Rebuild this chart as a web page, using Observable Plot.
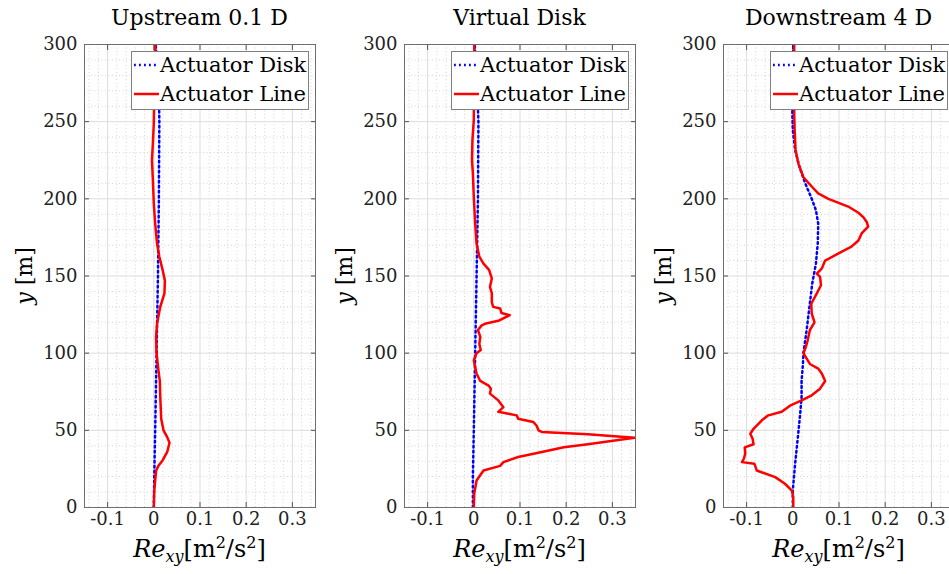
<!DOCTYPE html>
<html>
<head>
<meta charset="utf-8">
<script src="https://cdn.jsdelivr.net/npm/d3@7"></script>
<script src="https://cdn.jsdelivr.net/npm/@observablehq/plot@0.6"></script>
<style>
  html, body { margin: 0; padding: 0; background: #fff; overflow: hidden; }
  #wrap { position: relative; width: 949px; height: 574px; overflow: hidden; font-family: "DejaVu Serif", "Liberation Serif", serif; color: #000; }
  .panel { position: absolute; top: 0; width: 320px; height: 574px; }
  .panel svg { position: absolute; left: 0; top: 0; }
  .title { position: absolute; top: 7px; font-size: 22px; white-space: nowrap; transform: translateX(-50%); line-height: 1; }
  .xlab { position: absolute; top: 535px; font-size: 24px; white-space: nowrap; transform: translateX(-50%); line-height: 1; }
  .xlab sub { font-size: 16px; vertical-align: -5px; }
  .xlab sup { font-size: 16px; vertical-align: 9px; }
  .ylab { position: absolute; left: 25px; top: 276px; font-size: 22px; white-space: nowrap; transform: translate(-50%, -50%) rotate(-90deg); line-height: 1; }
  .legend { position: absolute; background: #fff; border: 1px solid #808080; font-size: 21px; line-height: 1; }
  .legend svg { position: absolute; left: 0; top: 0; }
  .legend .txt { position: absolute; left: 28px; white-space: nowrap; }
</style>
</head>
<body>
<div id="wrap"></div>
<script>
// ---------- data ----------
const panelTitles = ["Upstream 0.1 D", "Virtual Disk", "Downstream 4 D"];
const seriesNames = ["Actuator Disk", "Actuator Line"];
const xTicks = [-0.1, 0, 0.1, 0.2, 0.3];
const yTicks = [0, 50, 100, 150, 200, 250, 300];
const xDomain = [-0.15, 0.35];
const yDomain = [0, 300];

// Upstream 0.1 D
const upDiskY = [0, 20, 50, 100, 150, 200, 250, 270, 285, 300];
const upDiskX = [0, 0.001, 0.003, 0.006, 0.009, 0.011, 0.012, 0.011, 0.008, 0.004];
const upLineY = [0, 11, 24, 27, 30.5, 36, 42, 45.6, 50, 57.5, 71.6, 82, 89, 100, 110.5, 119, 130, 138.7, 147, 154, 162.5, 171, 184, 197, 212, 225, 236, 249, 266, 300];
const upLineX = [0, 0.001, 0.005, 0.01, 0.019, 0.029, 0.034, 0.029, 0.021, 0.016, 0.014, 0.013, 0.01, 0.006, 0.005, 0.007, 0.014, 0.023, 0.024, 0.019, 0.012, 0.007, 0.003, 0, -0.002, -0.004, -0.002, 0, 0.001, 0.003];

// Virtual Disk
const vdDiskY = [0, 20, 50, 100, 150, 200, 250, 275, 300];
const vdDiskX = [-0.002, -0.002, 0, 0.003, 0.006, 0.009, 0.01, 0.007, 0.002];
const vdLineY = [0, 9, 17.5, 24, 27, 29.4, 32.7, 35, 39, 41, 45.2, 47.4, 49, 50, 53, 55.4, 57.5, 59.7, 60.8, 62, 65, 69.4, 73.8, 77, 79, 82, 86.7, 91, 95.4, 100, 102, 106, 110.5, 115, 118, 119, 121, 124.6, 126, 129, 130, 133, 138.7, 143, 148.4, 154, 158, 162.5, 171, 184, 201, 216.5, 225, 238, 251, 300];
const vdLineX = [0, 0.001, 0.006, 0.021, 0.057, 0.064, 0.096, 0.132, 0.195, 0.247, 0.348, 0.247, 0.147, 0.14, 0.136, 0.129, 0.096, 0.093, 0.075, 0.053, 0.064, 0.053, 0.035, 0.037, 0.032, 0.014, 0.006, 0.003, 0, 0.006, 0.015, 0.012, 0.014, 0.009, 0.017, 0.024, 0.053, 0.078, 0.06, 0.057, 0.042, 0.039, 0.039, 0.035, 0.039, 0.033, 0.021, 0.012, 0.006, 0.003, 0, -0.002, -0.004, -0.003, 0, 0.001];

// Downstream 4 D
const dsDiskY = [0, 11, 28.3, 45.6, 60.8, 71.6, 82, 93, 100, 115, 130, 145, 158, 171, 184, 192.7, 200, 210, 221, 231.7, 244.6, 255.5, 300];
const dsDiskX = [0, 0, 0.005, 0.011, 0.016, 0.019, 0.019, 0.022, 0.023, 0.03, 0.036, 0.042, 0.05, 0.054, 0.055, 0.05, 0.041, 0.027, 0.014, 0.005, 0, -0.001, 0.001];
const dsLineY = [0, 6.7, 11, 15.4, 19.7, 24, 28.3, 29.4, 31.6, 34.8, 39, 41, 44.6, 47.8, 51, 56.5, 59.7, 62, 66, 69.4, 72.7, 77, 82, 86.7, 90, 93, 96.5, 100, 103, 108, 115, 120, 125.7, 132, 138.7, 144, 149.5, 151.6, 155, 160, 164.6, 169, 173, 177.6, 182, 185, 188, 191, 195, 200, 203.5, 208, 214, 223, 231.7, 244.6, 255.5, 300];
const dsLineX = [0.001, 0.001, -0.002, -0.017, -0.038, -0.078, -0.083, -0.11, -0.106, -0.103, -0.104, -0.085, -0.087, -0.092, -0.085, -0.067, -0.053, -0.024, -0.006, 0.019, 0.041, 0.059, 0.07, 0.063, 0.055, 0.037, 0.03, 0.023, 0.027, 0.032, 0.037, 0.047, 0.041, 0.04, 0.052, 0.061, 0.059, 0.052, 0.063, 0.07, 0.099, 0.127, 0.142, 0.149, 0.163, 0.16, 0.153, 0.142, 0.12, 0.077, 0.055, 0.041, 0.023, 0.012, 0.006, 0.004, 0.003, 0.003];

const panels = [
  {title: panelTitles[0], disk: [upDiskX, upDiskY], line: [upLineX, upLineY]},
  {title: panelTitles[1], disk: [vdDiskX, vdDiskY], line: [vdLineX, vdLineY]},
  {title: panelTitles[2], disk: [dsDiskX, dsDiskY], line: [dsLineX, dsLineY]}
];

// ---------- layout ----------
const panelLeft = [0, 320, 639];
const PW = 320, PH = 574;
const mL = 84, mR = 5, mT = 44, mB = 67;
const minorX = d3.range(-0.14, 0.3401, 0.02).map(v => +v.toFixed(2)).filter(v => !xTicks.some(t => Math.abs(t - v) < 1e-9));
const minorY = d3.range(10, 300, 10).filter(v => v % 50 !== 0);
const fmt = d => d === 0 ? "0" : String(d);
const toRows = ([xs, ys]) => xs.map((x, i) => ({x, y: ys[i]}));
const dotted = "1.8,3.2";

const wrap = document.getElementById("wrap");

panels.forEach((p, i) => {
  const div = document.createElement("div");
  div.className = "panel";
  div.style.left = panelLeft[i] + "px";
  wrap.appendChild(div);

  const chart = Plot.plot({
    width: PW, height: PH,
    marginLeft: mL, marginRight: mR, marginTop: mT, marginBottom: mB,
    style: {fontFamily: "DejaVu Serif, serif", fontSize: "18px", color: "#000", background: "transparent"},
    x: {domain: xDomain, label: null},
    y: {domain: yDomain, label: null},
    marks: [
      Plot.gridX(minorX, {stroke: "#d4d4d4", strokeOpacity: 1, strokeDasharray: "1,2.5"}),
      Plot.gridY(minorY, {stroke: "#d4d4d4", strokeOpacity: 1, strokeDasharray: "1,2.5"}),
      Plot.gridX(xTicks, {stroke: "#dddddd", strokeOpacity: 1}),
      Plot.gridY(yTicks, {stroke: "#dddddd", strokeOpacity: 1}),
      Plot.axisX(xTicks, {anchor: "bottom", tickSize: 0, tickPadding: 5, tickFormat: fmt, fontSize: 18, fill: "#222"}),
      Plot.axisY(yTicks, {anchor: "left", tickSize: 0, tickPadding: 7, tickFormat: fmt, fontSize: 18, fill: "#222"}),
      Plot.axisX(xTicks, {anchor: "bottom", tickSize: -5, text: null, stroke: "#555"}),
      Plot.axisX(xTicks, {anchor: "top", tickSize: -5, text: null, stroke: "#555"}),
      Plot.axisY(yTicks, {anchor: "left", tickSize: -5, text: null, stroke: "#555"}),
      Plot.axisY(yTicks, {anchor: "right", tickSize: -5, text: null, stroke: "#555"}),
      Plot.line(toRows(p.disk), {x: "x", y: "y", stroke: "#0000ff", strokeWidth: 2.5, strokeDasharray: dotted, clip: true}),
      Plot.line(toRows(p.line), {x: "x", y: "y", stroke: "#ff0000", strokeWidth: 2.5, clip: true}),
      Plot.frame({stroke: "#6e6e6e", strokeWidth: 1})
    ]
  });
  div.appendChild(chart);

  const cx = mL + (PW - mL - mR) / 2;
  const t = document.createElement("div");
  t.className = "title";
  t.style.left = cx + "px";
  t.textContent = p.title;
  div.appendChild(t);

  const xl = document.createElement("div");
  xl.className = "xlab";
  xl.style.left = cx + "px";
  xl.innerHTML = '<i>Re</i><sub><i>xy</i></sub>[m<sup>2</sup>/s<sup>2</sup>]';
  div.appendChild(xl);

  const yl = document.createElement("div");
  yl.className = "ylab";
  yl.innerHTML = '<i>y</i> [m]';
  div.appendChild(yl);

  // legend
  const lg = document.createElement("div");
  lg.className = "legend";
  lg.style.left = "131px";
  lg.style.top = "51px";
  lg.style.width = "176px";
  lg.style.height = "57px";
  const ls = d3.create("svg").attr("width", 30).attr("height", 57);
  ls.append("line").attr("x1", 2).attr("x2", 27).attr("y1", 13).attr("y2", 13)
    .attr("stroke", "#0000ff").attr("stroke-width", 2.5).attr("stroke-dasharray", dotted);
  ls.append("line").attr("x1", 2).attr("x2", 27).attr("y1", 42).attr("y2", 42)
    .attr("stroke", "#ff0000").attr("stroke-width", 2.5);
  lg.appendChild(ls.node());
  seriesNames.forEach((name, j) => {
    const tx = document.createElement("div");
    tx.className = "txt";
    tx.style.top = (j === 0 ? 3 : 32) + "px";
    tx.textContent = name;
    lg.appendChild(tx);
  });
  div.appendChild(lg);
});
</script>
</body>
</html>
